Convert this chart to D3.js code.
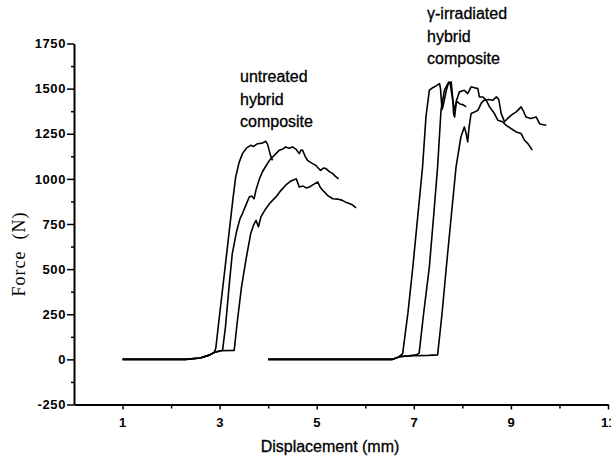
<!DOCTYPE html>
<html>
<head>
<meta charset="utf-8">
<script src="https://cdn.jsdelivr.net/npm/d3@7"></script>
<style>
  body { margin: 0; background: #fff; }
  svg { display: block; }
  .note { font-family: "Liberation Sans", Arial, sans-serif; font-size: 16px; fill: #000; }
</style>
</head>
<body>
<svg width="611" height="465"></svg>
<script>
// ticks
const xMajor = [1, 3, 5, 7, 9, 11];
const xMinor = [2, 4, 6, 8, 10];
const yMajor = [-250, 0, 250, 500, 750, 1000, 1250, 1500, 1750];
const yMinor = [-125, 125, 375, 625, 875, 1125, 1375, 1625];

// untreated hybrid composite, [displacement mm, force N]
const untreatedA = [[1,0],[2.3,0],[2.6,8],[2.8,25],[2.89,40],[2.92,60],[3.0,250],[3.1,480],[3.2,715],[3.27,880],
  [3.33,1010],[3.4,1090],[3.47,1140],[3.55,1170],[3.64,1186],[3.7,1180],[3.78,1195],[3.88,1198],[3.95,1208],
  [3.99,1190],[4.02,1158],[4.06,1120],[4.09,1103]];
const untreatedB = [[1,0],[2.3,0],[2.6,8],[2.8,25],[2.89,38],[3.0,45],[3.06,50],[3.12,180],[3.2,420],[3.26,585],
  [3.35,710],[3.42,780],[3.47,808],[3.55,860],[3.61,900],[3.66,905],[3.71,890],[3.75,940],[3.82,1000],[3.88,1038],
  [3.95,1070],[4.02,1100],[4.09,1121],[4.16,1140],[4.23,1159],[4.3,1165],[4.36,1177],[4.43,1170],[4.5,1177],
  [4.57,1165],[4.64,1140],[4.68,1160],[4.71,1159],[4.76,1125],[4.81,1103],[4.88,1090],[4.98,1075],[5.03,1060],
  [5.08,1047],[5.14,1060],[5.19,1057],[5.26,1040],[5.33,1029],[5.38,1015],[5.45,1000]];
const untreatedC = [[1,0],[2.3,0],[2.6,8],[2.8,25],[2.9,40],[3.0,48],[3.3,50],[3.36,200],[3.45,400],[3.54,549],
  [3.64,697],[3.7,745],[3.75,770],[3.8,735],[3.85,789],[3.95,835],[4.05,870],[4.16,900],[4.26,935],[4.36,965],
  [4.45,985],[4.54,996],[4.58,1000],[4.64,955],[4.72,960],[4.78,950],[4.85,955],[4.91,965],[4.97,975],[5.02,983],
  [5.07,955],[5.12,937],[5.17,925],[5.22,909],[5.33,890],[5.43,888],[5.53,881],[5.6,870],[5.67,863],[5.74,855],
  [5.81,840]];

// gamma-irradiated hybrid composite
const irradiatedA = [[4,0],[6.56,0],[6.7,15],[6.77,32],[6.88,260],[6.98,512],[7.08,790],[7.18,1066],[7.25,1343],
  [7.32,1491],[7.39,1505],[7.46,1515],[7.53,1528],[7.55,1500],[7.58,1385],[7.6,1400],[7.67,1491],[7.72,1537],
  [7.75,1525],[7.8,1440],[7.84,1380],[7.88,1430],[7.95,1415],[8.02,1410],[8.08,1399]];
const irradiatedB = [[4,0],[6.56,0],[6.7,15],[6.9,20],[7.05,25],[7.11,35],[7.2,250],[7.32,512],[7.41,800],
  [7.49,1066],[7.56,1380],[7.63,1491],[7.7,1528],[7.77,1537],[7.8,1450],[7.82,1360],[7.84,1343],[7.88,1436],
  [7.94,1482],[8.04,1491],[8.11,1472],[8.18,1510],[8.25,1505],[8.32,1500],[8.35,1454],[8.42,1454],[8.49,1436],
  [8.56,1399],[8.66,1362],[8.73,1325],[8.83,1316],[8.9,1297],[9.0,1279],[9.11,1260],[9.21,1251],[9.28,1214],
  [9.35,1195],[9.44,1159]];
const irradiatedC = [[4,0],[6.56,0],[6.7,15],[7.0,20],[7.3,22],[7.49,25],[7.58,250],[7.67,512],[7.77,790],
  [7.87,1066],[7.97,1232],[8.04,1288],[8.08,1250],[8.11,1205],[8.14,1290],[8.18,1362],[8.25,1370],[8.32,1380],
  [8.39,1420],[8.45,1436],[8.54,1440],[8.63,1436],[8.7,1454],[8.75,1440],[8.8,1362],[8.87,1316],[8.93,1334],
  [9.0,1352],[9.11,1371],[9.21,1399],[9.25,1380],[9.31,1343],[9.41,1334],[9.52,1343],[9.59,1306],[9.66,1300],
  [9.73,1297]];

const series = [untreatedA, untreatedB, untreatedC, irradiatedA, irradiatedB, irradiatedC];

const svg = d3.select('svg');

const x = d3.scaleLinear().domain([0, 11]).range([74, 608]);
const y = d3.scaleLinear().domain([-250, 1750]).range([404.5, 43.5]);

// minor ticks first so the axis line sits on top
svg.append('g')
  .attr('transform', `translate(0,${y(-250)})`)
  .call(d3.axisBottom(x).tickValues(xMinor).tickSize(4).tickFormat(''))
  .call(g => g.select('.domain').remove())
  .selectAll('line').attr('stroke', '#000').attr('stroke-width', 1.5);

svg.append('g')
  .attr('transform', `translate(${x(0)},0)`)
  .call(d3.axisLeft(y).tickValues(yMinor).tickSize(3).tickFormat(''))
  .call(g => g.select('.domain').remove())
  .selectAll('line').attr('stroke', '#000').attr('stroke-width', 1.5);

const xAxis = svg.append('g')
  .attr('transform', `translate(0,${y(-250)})`)
  .call(d3.axisBottom(x).tickValues(xMajor).tickSize(5).tickSizeOuter(0).tickPadding(6)
    .tickFormat(d => String(d)));

const yAxis = svg.append('g')
  .attr('transform', `translate(${x(0)},0)`)
  .call(d3.axisLeft(y).tickValues(yMajor).tickSize(7).tickSizeOuter(0).tickPadding(1)
    .tickFormat(d => String(d)));

[xAxis, yAxis].forEach(g => {
  g.select('.domain').attr('stroke', '#000').attr('stroke-width', 2);
  g.selectAll('.tick line').attr('stroke', '#000').attr('stroke-width', 1.5);
  g.selectAll('.tick text')
    .attr('fill', '#000')
    .style('font-family', '"Liberation Sans", Arial, sans-serif')
    .style('font-weight', 'bold')
    .style('font-size', '13px')
    .style('letter-spacing', '0.6px');
});
xAxis.selectAll('.tick text').attr('dy', '0.9em');

// axis titles
svg.append('text')
  .attr('x', 330).attr('y', 452)
  .attr('text-anchor', 'middle')
  .style('font-family', '"Liberation Sans", Arial, sans-serif')
  .style('font-size', '16px')
  .style('stroke', '#000')
  .style('stroke-width', '0.3px')
  .text('Displacement (mm)');

svg.append('text')
  .attr('transform', 'translate(25,254) rotate(-90)')
  .attr('text-anchor', 'middle')
  .style('font-family', '"Liberation Serif", "Times New Roman", serif')
  .style('font-size', '18px')
  .style('letter-spacing', '1px')
  .style('white-space', 'pre')
  .text('Force  (N)');

// curves
const line = d3.line()
  .x(d => x(d[0]))
  .y(d => y(d[1]));

svg.append('g')
  .selectAll('path')
  .data(series)
  .enter().append('path')
  .attr('d', line)
  .attr('fill', 'none')
  .attr('stroke', '#000')
  .attr('stroke-width', 1.6)
  .attr('stroke-linejoin', 'round');

// annotations
const notes = [
  { x: 240, y: 82, lines: ['untreated', 'hybrid', 'composite'] },
  { x: 427, y: 19, lines: ['\u03b3-irradiated', 'hybrid', 'composite'] },
];

notes.forEach(n => {
  svg.append('text')
    .attr('class', 'note')
    .style('stroke', '#000')
    .style('stroke-width', '0.3px')
    .selectAll('tspan')
    .data(n.lines)
    .enter().append('tspan')
    .attr('x', n.x)
    .attr('y', (d, i) => n.y + i * 22.5)
    .text(d => d);
});
</script>
</body>
</html>
